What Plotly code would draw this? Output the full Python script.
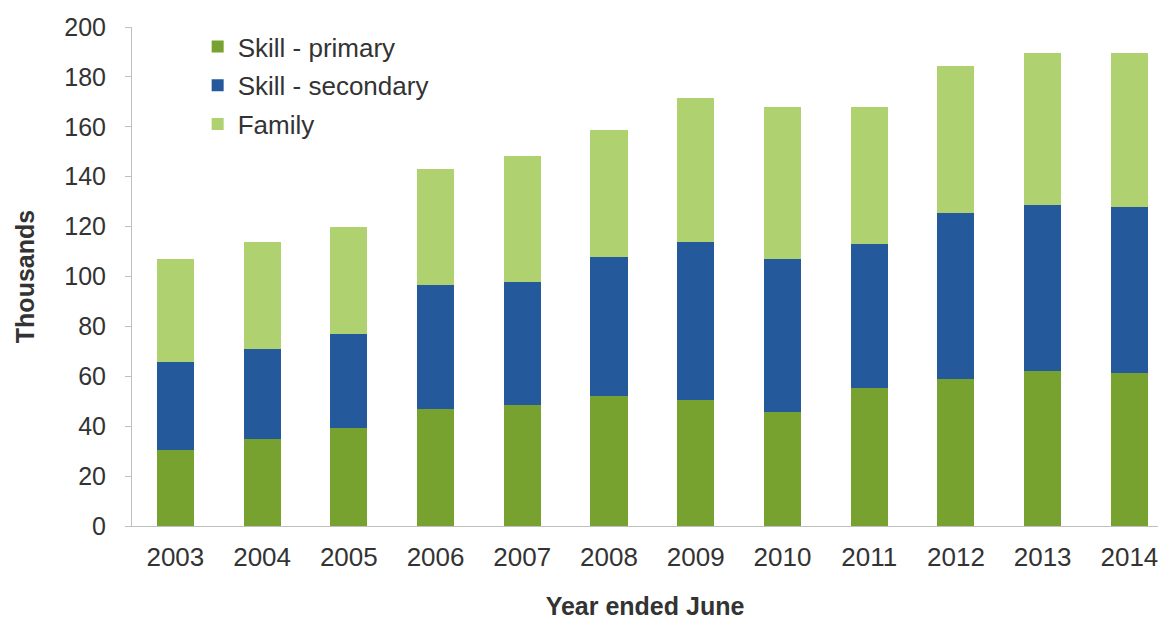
import plotly.graph_objects as go

years = ["2003", "2004", "2005", "2006", "2007", "2008", "2009", "2010", "2011", "2012", "2013", "2014"]
skill_primary = [30.5, 35.0, 39.2, 47.0, 48.4, 52.0, 50.5, 45.8, 55.3, 58.8, 62.2, 61.2]
skill_secondary = [35.1, 35.8, 37.8, 49.6, 49.3, 55.9, 63.5, 61.3, 57.9, 66.5, 66.6, 66.7]
family = [41.4, 43.2, 43.0, 46.5, 50.5, 50.8, 57.7, 60.7, 54.6, 59.1, 60.7, 61.6]
y_ticks = [0, 20, 40, 60, 80, 100, 120, 140, 160, 180, 200]

FONT = "Liberation Sans, Arial, sans-serif"
TXT = "#333333"
FS = 25

fig = go.Figure()
fig.add_trace(go.Bar(x=years, y=skill_primary, name="Skill - primary",
                     marker=dict(color="#78A22F", line=dict(width=0)), legendgroup="a"))
fig.add_trace(go.Bar(x=years, y=skill_secondary, name="Skill - secondary",
                     marker=dict(color="#24599B", line=dict(width=0)), legendgroup="b"))
fig.add_trace(go.Bar(x=years, y=family, name="Family",
                     marker=dict(color="#AFD16F", line=dict(width=0)), legendgroup="c"))

fig.update_layout(
    barmode="stack",
    bargap=0.573,
    width=1158, height=620,
    margin=dict(l=132, r=0, t=27, b=94),
    plot_bgcolor="white", paper_bgcolor="white",
    font=dict(family=FONT, size=FS, color=TXT),
    showlegend=True,
    legend=dict(x=0.064, y=1.008, xanchor="left", yanchor="top",
                traceorder="grouped", tracegroupgap=2,
                font=dict(size=26, color=TXT, family=FONT),
                bgcolor="rgba(0,0,0,0)"),
    xaxis=dict(range=[-0.5, 11.33], showline=True, linecolor="#BFBFBF", linewidth=1,
               ticks="", showgrid=False, tickfont=dict(size=26, color=TXT),
               ticklabelstandoff=8,
               title=dict(text="<b>Year ended June</b>", font=dict(size=FS, color=TXT), standoff=28)),
    yaxis=dict(range=[0, 200], tickvals=y_ticks, showline=True, linecolor="#BFBFBF", linewidth=1,
               ticks="outside", ticklen=6, tickcolor="#BFBFBF", showgrid=False, zeroline=False,
               tickfont=dict(size=FS, color=TXT), ticklabelstandoff=14,
               title=dict(text="<b>Thousands</b>", font=dict(size=FS, color=TXT), standoff=22)),
)

fig.write_html("out.html")
